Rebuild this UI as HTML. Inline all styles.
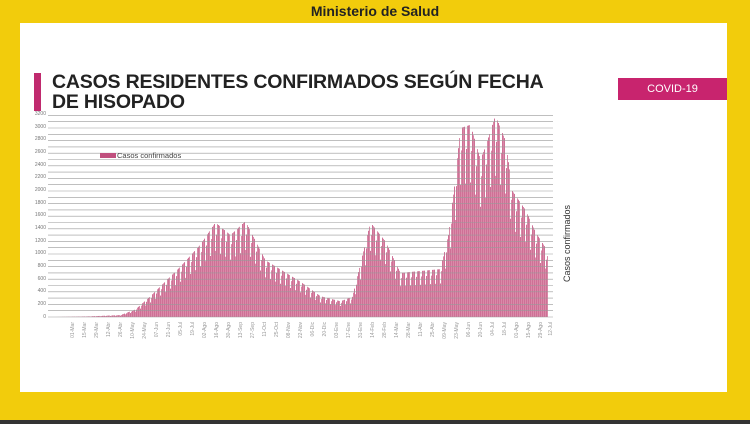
<!DOCTYPE html>
<html><head><meta charset="utf-8"><style>
body{margin:0;width:750px;height:424px;overflow:hidden;background:#f2cc0c;font-family:"Liberation Sans",sans-serif;position:relative}
.panel{position:absolute;left:20px;top:23px;width:707px;height:369px;background:#fff}
.hdr{position:absolute;top:3px;left:0;width:750px;text-align:center;font-weight:bold;font-size:14px;color:#222}
.ttl{position:absolute;left:52px;top:72px;font-weight:bold;font-size:19.5px;line-height:20px;color:#222;letter-spacing:-0.2px}
.pbar{position:absolute;left:34px;top:73px;width:7px;height:38px;background:#c02a6e}
.covid{position:absolute;left:618px;top:78px;width:109px;height:22px;background:#c8246e;color:#fff;font-size:11px;text-align:center;line-height:22px}
.bot{position:absolute;left:0;top:420px;width:750px;height:4px;background:#333}
</style></head><body>
<div class="panel"></div>
<div class="hdr">Ministerio de Salud</div>
<div class="pbar"></div>
<div class="ttl">CASOS RESIDENTES CONFIRMADOS SEGÚN FECHA<br>DE HISOPADO</div>
<div class="covid">COVID-19</div>
<div class="bot"></div>
<svg id="s" width="750" height="424" style="position:absolute;left:0;top:0" font-family="Liberation Sans, sans-serif">
<g id="bars"></g><g id="grid"></g>
<g font-size="5" fill="#777" text-anchor="end">
<text x="46" y="318">0</text><text x="46" y="305">200</text><text x="46" y="292">400</text><text x="46" y="280">600</text><text x="46" y="267">800</text><text x="46" y="254">1000</text><text x="46" y="242">1200</text><text x="46" y="229">1400</text><text x="46" y="216">1600</text><text x="46" y="204">1800</text><text x="46" y="191">2000</text><text x="46" y="178">2200</text><text x="46" y="166">2400</text><text x="46" y="153">2600</text><text x="46" y="140">2800</text><text x="46" y="128">3000</text><text x="46" y="115">3200</text>
</g>
<rect x="100" y="153" width="16" height="5" fill="#c0507e"/>
<text x="117" y="158" font-size="7.5" fill="#444">Casos confirmados</text>
<text transform="translate(570,282) rotate(-90)" font-size="9" fill="#333">Casos confirmados</text>
</svg>
<script>
var ns="http://www.w3.org/2000/svg";
function el(t,a,p){var e=document.createElementNS(ns,t);for(var k in a)e.setAttribute(k,a[k]);document.getElementById(p).appendChild(e);return e}
var env=[[55,0],[88,10],[120,30],[135,120],[150,330],[180,800],[200,1150],[215,1500],[230,1300],[245,1520],[265,900],[300,560],[320,330],[340,250],[352,320],[370,1500],[385,1200],[400,700],[440,760],[448,1300],[455,2200],[460,3000],[470,3050],[480,2500],[485,2700],[495,3200],[505,2800],[512,2000],[525,1700],[535,1350],[545,1100],[548,900]];
function f(x){for(var i=0;i<env.length-1;i++){if(x>=env[i][0]&&x<=env[i+1][0]){var t=(x-env[i][0])/(env[i+1][0]-env[i][0]);return env[i][1]+t*(env[i+1][1]-env[i][1]);}}return 0}
for(var x=55;x<548;x++){var d=(x%5==0)?0.7:(x%5==1?0.88:1);var v=f(x)*d;var h=v*0.063;
el("rect",{x:x,y:317-h,width:1,height:h,fill:(x%2?"#d98aa8":"#cf7096")},"bars");}
for(var i=0;i<=32;i++){var y=317-i*6.3;el("line",{x1:48,x2:553,y1:y,y2:y,stroke:"#999","stroke-width":0.6},"grid");}
</script>
<svg width="750" height="424" style="position:absolute;left:0;top:0" font-family="Liberation Sans, sans-serif" font-size="5" fill="#999">
<g text-anchor="end">
<text transform="translate(74,322) rotate(-90)">01-Mar</text><text transform="translate(86,322) rotate(-90)">15-Mar</text><text transform="translate(98,322) rotate(-90)">29-Mar</text><text transform="translate(110,322) rotate(-90)">12-Abr</text><text transform="translate(122,322) rotate(-90)">26-Abr</text><text transform="translate(134,322) rotate(-90)">10-May</text><text transform="translate(146,322) rotate(-90)">24-May</text><text transform="translate(158,322) rotate(-90)">07-Jun</text><text transform="translate(170,322) rotate(-90)">21-Jun</text><text transform="translate(182,322) rotate(-90)">05-Jul</text><text transform="translate(194,322) rotate(-90)">19-Jul</text><text transform="translate(206,322) rotate(-90)">02-Ago</text><text transform="translate(218,322) rotate(-90)">16-Ago</text><text transform="translate(230,322) rotate(-90)">30-Ago</text><text transform="translate(242,322) rotate(-90)">13-Sep</text><text transform="translate(254,322) rotate(-90)">27-Sep</text><text transform="translate(266,322) rotate(-90)">11-Oct</text><text transform="translate(278,322) rotate(-90)">25-Oct</text><text transform="translate(290,322) rotate(-90)">08-Nov</text><text transform="translate(302,322) rotate(-90)">22-Nov</text><text transform="translate(314,322) rotate(-90)">06-Dic</text><text transform="translate(326,322) rotate(-90)">20-Dic</text><text transform="translate(338,322) rotate(-90)">03-Ene</text><text transform="translate(350,322) rotate(-90)">17-Ene</text><text transform="translate(362,322) rotate(-90)">31-Ene</text><text transform="translate(374,322) rotate(-90)">14-Feb</text><text transform="translate(386,322) rotate(-90)">28-Feb</text><text transform="translate(398,322) rotate(-90)">14-Mar</text><text transform="translate(410,322) rotate(-90)">28-Mar</text><text transform="translate(422,322) rotate(-90)">11-Abr</text><text transform="translate(434,322) rotate(-90)">25-Abr</text><text transform="translate(446,322) rotate(-90)">09-May</text><text transform="translate(458,322) rotate(-90)">23-May</text><text transform="translate(470,322) rotate(-90)">06-Jun</text><text transform="translate(482,322) rotate(-90)">20-Jun</text><text transform="translate(494,322) rotate(-90)">04-Jul</text><text transform="translate(506,322) rotate(-90)">18-Jul</text><text transform="translate(518,322) rotate(-90)">01-Ago</text><text transform="translate(530,322) rotate(-90)">15-Ago</text><text transform="translate(542,322) rotate(-90)">29-Ago</text><text transform="translate(552,322) rotate(-90)">12-Jul</text>
</g></svg>
</body></html>
